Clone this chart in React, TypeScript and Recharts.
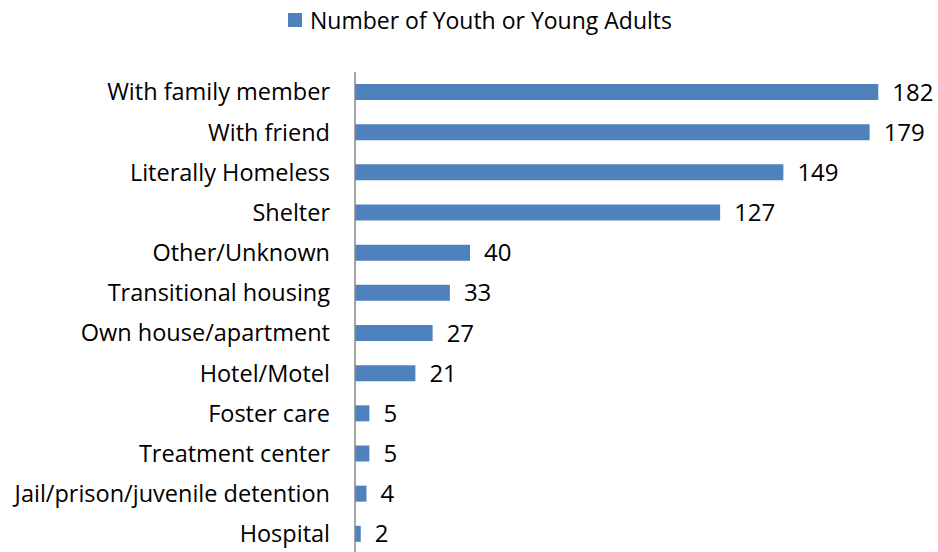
import { Bar, BarChart, LabelList, Legend, XAxis, YAxis } from "recharts"

const categories = [
  "With family member",
  "With friend",
  "Literally Homeless",
  "Shelter",
  "Other/Unknown",
  "Transitional housing",
  "Own house/apartment",
  "Hotel/Motel",
  "Foster care",
  "Treatment center",
  "Jail/prison/juvenile detention",
  "Hospital",
]
const counts = [182, 179, 149, 127, 40, 33, 27, 21, 5, 5, 4, 2]
const seriesName = "Number of Youth or Young Adults"

const FONT = "'Open Sans', sans-serif"
const BLUE = "#4F81BD"

const chartData = categories.map((name, i) => ({ name, value: counts[i] }))

function LegendBox() {
  return (
    <div
      style={{
        display: "flex",
        alignItems: "center",
        height: 40,
        paddingLeft: 288,
        fontFamily: FONT,
        fontSize: 23,
        color: "#000",
      }}
    >
      <span style={{ width: 14, height: 14, background: BLUE, marginRight: 8 }} />
      <span>{seriesName}</span>
    </div>
  )
}

export default function App() {
  return (
    <div style={{ width: 938, height: 552, overflow: "hidden" }}>
      {/* drop the default body margin so the chart fills the window */}
      <style>{"body{margin:0}"}</style>
      <BarChart
        width={938}
        height={562}
        data={chartData}
        layout="vertical"
        margin={{ top: 32, right: 8, left: 0, bottom: 8 }}
        style={{ overflow: "visible" }}
      >
        <Legend
          verticalAlign="top"
          wrapperStyle={{ top: 0, left: 0, width: 938 }}
          content={() => <LegendBox />}
        />
        <XAxis type="number" domain={[0, 200]} hide />
        <YAxis
          type="category"
          dataKey="name"
          width={355}
          axisLine={{ stroke: "#898989", strokeWidth: 1.5 }}
          tickLine={false}
          tickSize={0}
          tickMargin={25}
          interval={0}
          tick={{ fontSize: 23.5, fill: "#000", fontFamily: FONT }}
        />
        <Bar dataKey="value" fill={BLUE} barSize={16} isAnimationActive={false}>
          <LabelList
            dataKey="value"
            position="right"
            offset={14}
            style={{ fontSize: 24, fill: "#000", fontFamily: FONT }}
          />
        </Bar>
      </BarChart>
    </div>
  )
}
